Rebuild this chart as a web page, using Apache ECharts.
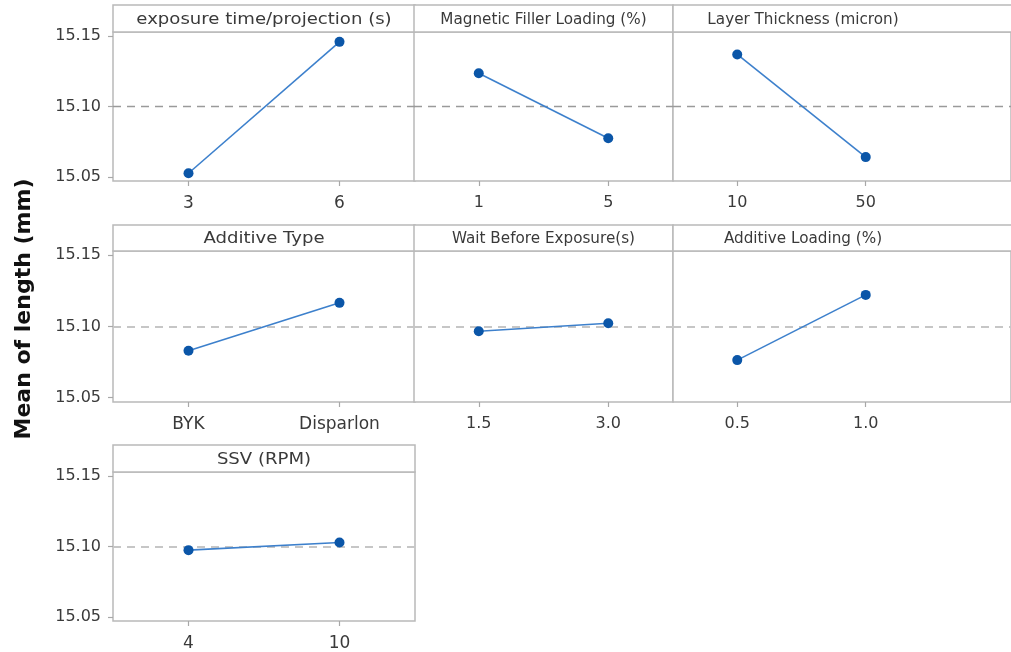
<!DOCTYPE html>
<html>
<head>
<meta charset="utf-8">
<title>Main Effects Plot for length</title>
<script src="https://cdn.jsdelivr.net/npm/echarts@6/dist/echarts.min.js"></script>
<style>
  html, body { margin: 0; padding: 0; background: #fff; }
  #chart { width: 1011px; height: 652px; }
</style>
</head>
<body>
<div id="chart"></div>
<script>
// Factors, their two levels and the mean response at each level
const factorNames = [
  'exposure time/projection (s)',
  'Magnetic Filler Loading (%)',
  'Layer Thickness (micron)',
  'Additive Type',
  'Wait Before Exposure(s)',
  'Additive Loading (%)',
  'SSV (RPM)'
];
const levelLabels = [
  ['3', '6'],
  ['1', '5'],
  ['10', '50'],
  ['BYK', 'Disparlon'],
  ['1.5', '3.0'],
  ['0.5', '1.0'],
  ['4', '10']
];
const levelMeans = [
  [15.0525, 15.146],
  [15.1236, 15.0774],
  [15.137, 15.064],
  [15.083, 15.1166],
  [15.0967, 15.1023],
  [15.0764, 15.1222],
  [15.0974, 15.1028]
];
const grandMean = 15.10;
const yTickValues = [15.05, 15.10, 15.15];
const yTitle = 'Mean of length (mm)';

// Panel layout (pixels); the first column is drawn wider than the others
const cols = [
  { left: 113, width: 302, unit: 151, textScale: 1.13, labelSize: 17 },
  { left: 414, width: 259, unit: 129.5, textScale: 0.95, labelSize: 16 },
  { left: 673, width: 342, unit: 130, textScale: 0.95, labelSize: 16 }
];
const rows = [
  { stripTop: 5, top: 32, bottom: 181 },
  { stripTop: 225, top: 251, bottom: 402 },
  { stripTop: 445, top: 472, bottom: 622 }
];
const yMin = 15.047, yMax = 15.153;
const frameColor = '#b9b9b9';
const textFont = '"DejaVu Sans", sans-serif';

const chart = echarts.init(document.getElementById('chart'), null, { renderer: 'canvas' });

const grids = [], xAxes = [], yAxes = [], series = [], graphics = [];

factorNames.forEach((name, i) => {
  const r = Math.floor(i / 3), c = i % 3;
  const col = cols[c], row = rows[r];
  const xMin = -0.5;
  const xMax = xMin + col.width / col.unit;
  grids.push({
    left: col.left, top: row.top,
    width: col.width, height: row.bottom - row.top,
    show: true, borderColor: frameColor, borderWidth: 1.5,
    backgroundColor: '#fff'
  });
  const labels = levelLabels[i];
  xAxes.push({
    gridIndex: i, type: 'value', min: xMin, max: xMax,
    splitLine: { show: false },
    axisLine: { show: false, onZero: false },
    axisTick: { show: true, customValues: [0, 1], length: 5, lineStyle: { color: '#a8a8a8', width: 1.2 } },
    axisLabel: {
      show: true, customValues: [0, 1], margin: 14,
      formatter: v => labels[Math.round(v)],
      color: '#3a3a3a', fontFamily: textFont, fontSize: col.labelSize
    }
  });
  yAxes.push({
    gridIndex: i, type: 'value', min: yMin, max: yMax,
    splitLine: { show: false },
    axisLine: { show: false, onZero: false },
    axisTick: { show: c === 0, customValues: yTickValues, length: 5, lineStyle: { color: '#a8a8a8', width: 1.2 } },
    axisLabel: {
      show: c === 0, customValues: yTickValues, margin: 12,
      formatter: v => v.toFixed(2),
      color: '#3a3a3a', fontFamily: textFont, fontSize: 16
    }
  });
  series.push({
    type: 'line', xAxisIndex: i, yAxisIndex: i,
    data: levelMeans[i].map((m, k) => [k, m]),
    symbol: 'circle', symbolSize: 10,
    lineStyle: { color: '#3d80cc', width: 1.6 },
    itemStyle: { color: '#0b56a8' },
    z: 5,
    markLine: {
      silent: true, symbol: 'none', label: { show: false },
      lineStyle: {
        color: r === 0 ? '#9a9a9a' : '#c6c6c6',
        width: r === 0 ? 1.3 : 2,
        type: [8, 6]
      },
      data: [{ yAxis: grandMean }]
    }
  });
  // Header strip with the factor name
  graphics.push({
    type: 'rect', z: 10,
    shape: { x: col.left, y: row.stripTop, width: col.width, height: row.top - row.stripTop },
    style: { fill: '#fff', stroke: frameColor, lineWidth: 1.5 }
  });
  const centerX = col.left + (0.5 - xMin) * col.unit;
  graphics.push({
    type: 'text', z: 11,
    x: centerX, y: (row.stripTop + row.top) / 2 + 1,
    scaleX: col.textScale,
    style: {
      text: name, align: 'center', verticalAlign: 'middle',
      fill: '#3a3a3a', font: '16px ' + textFont
    }
  });
});

graphics.push({
  type: 'text', z: 11,
  x: 24, y: 309, rotation: Math.PI / 2,
  style: {
    text: yTitle, align: 'center', verticalAlign: 'middle',
    fill: '#111', font: 'bold 22px ' + textFont
  }
});

chart.setOption({
  animation: false,
  backgroundColor: '#fff',
  grid: grids,
  xAxis: xAxes,
  yAxis: yAxes,
  series: series,
  graphic: graphics
});
</script>
</body>
</html>
